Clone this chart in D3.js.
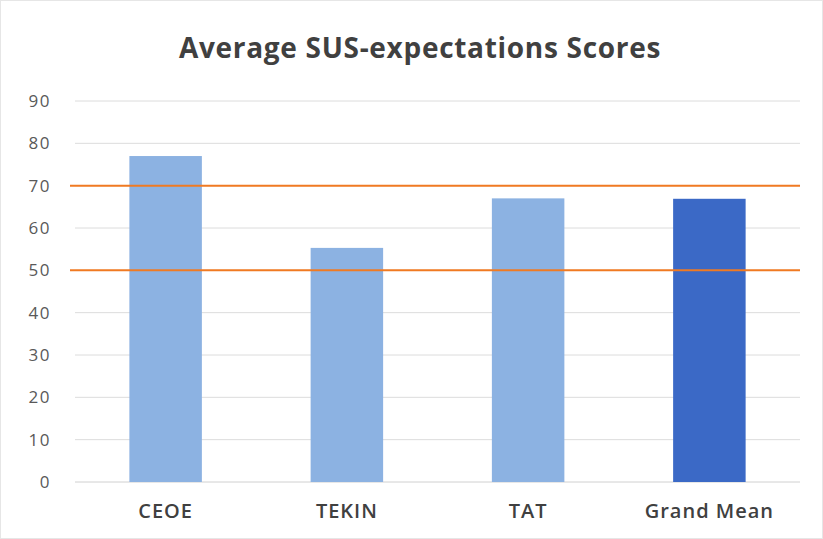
<!DOCTYPE html>
<html>
<head>
  <meta charset="utf-8">
  <title>Average SUS-expectations Scores</title>
  <script src="https://cdn.jsdelivr.net/npm/d3@7"></script>
  <style>
    body { margin: 0; background: #fff; }
    svg { display: block; font-family: "Open Sans", "Noto Sans", sans-serif; }
  </style>
</head>
<body>
<svg id="chart" width="823" height="539"></svg>
<script>
  var categories = ['CEOE', 'TEKIN', 'TAT', 'Grand Mean'];
  var scores = [77, 55.3, 67, 66.9];
  var barColors = ['#8cb2e2', '#8cb2e2', '#8cb2e2', '#3b69c6'];
  var yTicks = [0, 10, 20, 30, 40, 50, 60, 70, 80, 90];
  var refLines = [50, 70];

  var svg = d3.select('#chart');
  var W = 823, H = 539;
  var m = {top: 101, right: 23, bottom: 57, left: 75};

  // faint frame like the pasted chart
  svg.append('rect')
    .attr('x', 0.5).attr('y', 0.5)
    .attr('width', W - 1).attr('height', H - 1)
    .attr('fill', '#fff').attr('stroke', '#e6e6e6');

  var x = d3.scaleBand()
    .domain(categories)
    .range([m.left, W - m.right])
    .paddingInner(0.6)
    .paddingOuter(0.3);

  var y = d3.scaleLinear()
    .domain([0, 90])
    .range([H - m.bottom, m.top]);

  // gridlines
  svg.append('g').selectAll('line')
    .data(yTicks)
    .join('line')
      .attr('x1', m.left).attr('x2', W - m.right)
      .attr('y1', d => y(d)).attr('y2', d => y(d))
      .attr('stroke', d => d === 0 ? '#d0d0d0' : '#dcdcdc')
      .attr('stroke-width', 1);

  // y axis labels
  var yAxis = d3.axisLeft(y).tickValues(yTicks).tickSize(0).tickPadding(0);
  svg.append('g')
    .attr('transform', 'translate(51,0)')
    .call(yAxis)
    .call(g => g.select('.domain').remove())
    .call(g => g.selectAll('text')
      .attr('fill', '#595959')
      .style('font-size', '17px')
      .style('letter-spacing', '1.5px')
      .style('font-family', '"Open Sans", sans-serif'));

  // bars
  svg.append('g').selectAll('rect')
    .data(scores)
    .join('rect')
      .attr('x', (d, i) => x(categories[i]))
      .attr('y', d => y(d))
      .attr('width', x.bandwidth())
      .attr('height', d => y(0) - y(d))
      .attr('fill', (d, i) => barColors[i]);

  // reference lines
  svg.append('g').selectAll('line')
    .data(refLines)
    .join('line')
      .attr('x1', 70).attr('x2', W - m.right)
      .attr('y1', d => y(d)).attr('y2', d => y(d))
      .attr('stroke', '#f07a22')
      .attr('stroke-width', 2);

  // x axis labels
  var xAxis = d3.axisBottom(x).tickSize(0).tickPadding(0);
  svg.append('g')
    .attr('transform', 'translate(0,' + (y(0) + 22) + ')')
    .call(xAxis)
    .call(g => g.select('.domain').remove())
    .call(g => g.selectAll('text')
      .attr('fill', '#404040')
      .style('font-size', '20px')
      .style('font-weight', '600')
      .style('letter-spacing', '1px')
      .style('font-family', '"Open Sans", sans-serif'));

  // title
  svg.append('text')
    .attr('x', 420).attr('y', 58)
    .attr('text-anchor', 'middle')
    .attr('fill', '#404040')
    .style('font-size', '28px')
    .style('font-weight', '700')
    .style('letter-spacing', '0.7px')
    .text('Average SUS-expectations Scores');
</script>
</body>
</html>
